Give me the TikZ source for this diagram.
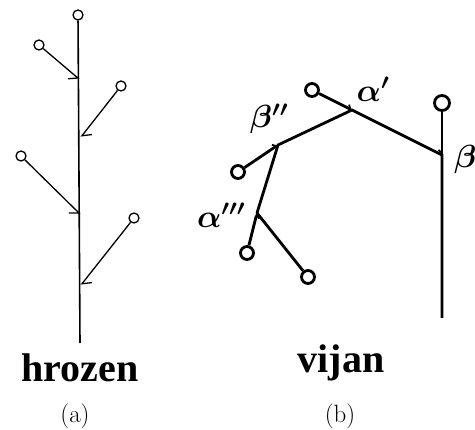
\documentclass[tikz,border=0pt]{standalone}
\usepackage{fix-cm}
\usepackage{fontspec}
\newfontfamily\capfont{Liberation Serif}
\usetikzlibrary{arrows.meta}

\begin{document}
\begin{tikzpicture}[x=1pt,y=-1pt,
  bud/.style={circle,draw,line width=1.3pt,minimum size=10pt,inner sep=0pt},
  bigbud/.style={circle,draw,line width=2.8pt,minimum size=13pt,inner sep=0pt},
  stem/.style={line width=1.6pt},
  twig/.style={line width=1.3pt},
  bough/.style={line width=2.8pt},
  barbL/.style={-{Straight Barb[harpoon,length=7pt,width=14pt,line width=1.3pt]}},
  barbR/.style={-{Straight Barb[harpoon,swap,length=7pt,width=14pt,line width=1.3pt]}},
  tickA/.style={-{Straight Barb[harpoon,length=3pt,width=7pt,line width=1.8pt]}},
  tickB/.style={-{Straight Barb[harpoon,swap,length=3pt,width=7pt,line width=1.8pt]}},
  caption/.style={font=\capfont\bfseries\fontsize{40}{44}\selectfont,inner sep=0pt},
  sublabel/.style={font=\fontsize{25}{29}\selectfont,inner sep=0pt},
  greek/.style={font=\fontsize{32}{36}\selectfont\boldmath,inner sep=0pt}
]
\useasboundingbox (0,0) rectangle (475,430);

% (a) single stem with alternating side shoots
\node[bud] (t0) at (78,15) {};
\coordinate (s0) at (80,343);
\draw[stem] (t0) -- (s0);
\node[bud] (b1) at (39,45) {};
\node[bud] (b2) at (121,86) {};
\node[bud] (b3) at (21,156) {};
\node[bud] (b4) at (134,218) {};
\coordinate (j1) at (79,79);
\coordinate (j2) at (81,137);
\coordinate (j3) at (80,214);
\coordinate (j4) at (81,285);
\draw[twig,barbR] (b1) -- (j1);
\draw[twig,barbL] (b2) -- (j2);
\draw[twig,barbR] (b3) -- (j3);
\draw[twig,barbL] (b4) -- (j4);

% (b) branching bough
\node[bigbud] (c1) at (312,90) {};
\node[bigbud,minimum height=15pt] (c2) at (442,103) {};
\node[bigbud] (c3) at (238,172) {};
\node[bigbud] (c4) at (247,253) {};
\node[bigbud] (c5) at (308,277) {};
\coordinate (ka) at (352,110);
\coordinate (kb) at (442,155);
\coordinate (kc) at (278,145);
\coordinate (kd) at (257,213);
\coordinate (foot) at (442,318);
\draw[bough] (kd) -- (kc) -- (ka) -- (kb) -- (foot);
\draw[bough] (kd) -- (c5);
\draw[bough,tickA] (c1) -- (ka);
\draw[bough,tickB] (c2) -- (kb);
\draw[bough,tickA] (c3) -- (kc);
\draw[bough,tickB] (c4) -- (kd);
\node[greek] (la) at (373,89) {$\alpha'$};
\node[greek,anchor=west] (lb) at (454,160) {$\beta$};
\node[greek] (lc) at (269,119) {$\beta''$};
\node[greek] (ld) at (221,215) {$\alpha'''$};

% captions
\node[caption] (ca) at (80,368) {hrozen};
\node[sublabel] (sa) at (75,416) {(a)};
\node[caption] (cb) at (341,363) {vijan};
\node[sublabel] (sb) at (340,416) {(b)};
\end{tikzpicture}
\end{document}
